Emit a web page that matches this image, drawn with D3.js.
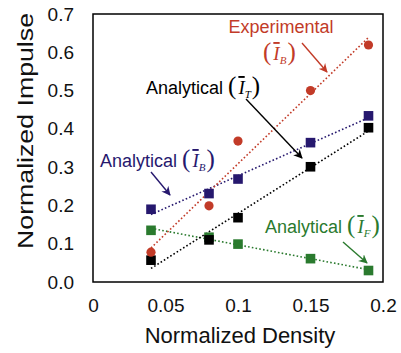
<!DOCTYPE html>
<html><head><meta charset="utf-8">
<script src="https://cdn.jsdelivr.net/npm/d3@7"></script>
<style>
html,body{margin:0;padding:0;background:#fff;}
text{font-family:Arial,"Liberation Sans",sans-serif;}
.serif{font-family:"Times New Roman","Liberation Serif",serif;}
</style>
</head><body>
<svg id="chart" width="401" height="353"></svg>
<script>
const density = [0.04, 0.08, 0.10, 0.15, 0.19];
const experimental = [0.078, 0.199, 0.368, 0.50, 0.619];
const analyticalB = [0.19, 0.231, 0.269, 0.364, 0.434];
const analyticalT = [0.057, 0.11, 0.168, 0.301, 0.403];
const analyticalF = [0.135, 0.117, 0.099, 0.061, 0.03];
const xTicks = [0, 0.05, 0.1, 0.15, 0.2];
const xTickLabels = ["0", "0.05", "0.1", "0.15", "0.2"];
const yTicks = [0, 0.1, 0.2, 0.3, 0.4, 0.5, 0.6, 0.7];
const yTickLabels = ["0.0", "0.1", "0.2", "0.3", "0.4", "0.5", "0.6", "0.7"];

const colors = {exp: "#c23b28", B: "#26186e", T: "#000000", F: "#2a7a2e"};

const svg = d3.select("#chart");
const x = d3.scaleLinear().domain([0, 0.2]).range([93, 383]);
const y = d3.scaleLinear().domain([0, 0.7]).range([282, 14]);

// frame
svg.append("rect").attr("x", x(0)).attr("y", y(0.7))
  .attr("width", x(0.2) - x(0)).attr("height", y(0) - y(0.7))
  .attr("fill", "none").attr("stroke", "#000").attr("stroke-width", 1.5);

// axes (labels only, no tick marks)
const xAxis = d3.axisBottom(x).tickValues(xTicks).tickSize(0).tickPadding(17)
  .tickFormat((d, i) => xTickLabels[i]);
const gx = svg.append("g").attr("transform", `translate(0,${y(0)})`).call(xAxis);
gx.select(".domain").remove();
gx.selectAll("text").attr("font-size", 19).attr("fill", "#111").attr("font-family", "Arial, Liberation Sans, sans-serif");

const yAxis = d3.axisLeft(y).tickValues(yTicks).tickSize(0).tickPadding(19)
  .tickFormat((d, i) => yTickLabels[i]);
const gy = svg.append("g").attr("transform", `translate(${x(0)},0)`).call(yAxis);
gy.select(".domain").remove();
gy.selectAll("text").attr("font-size", 19).attr("fill", "#111").attr("font-family", "Arial, Liberation Sans, sans-serif");

// axis titles
svg.append("text").attr("x", 240).attr("y", 343).attr("text-anchor", "middle")
  .attr("font-size", 22).attr("fill", "#111").text("Normalized Density");
svg.append("text").attr("transform", "translate(33,131) rotate(-90)")
  .attr("text-anchor", "middle").attr("font-size", 22).attr("fill", "#111")
  .attr("textLength", 236).attr("lengthAdjust", "spacingAndGlyphs").text("Normalized Impulse");

// trend lines (least-squares fits of each series)
function fit(ys) {
  const mx = d3.mean(density), my = d3.mean(ys);
  const sxy = d3.sum(density, (d, i) => (d - mx) * (ys[i] - my));
  const sxx = d3.sum(density, d => (d - mx) ** 2);
  const m = sxy / sxx, b = my - m * mx;
  const x0 = d3.min(density), x1 = d3.max(density);
  return [[x0, m * x0 + b], [x1, m * x1 + b]];
}
const series = [
  {vals: analyticalF, c: colors.F, shape: "sq"},
  {vals: analyticalB, c: colors.B, shape: "sq"},
  {vals: analyticalT, c: colors.T, shape: "sq"},
  {vals: experimental, c: colors.exp, shape: "circ"}
];
const line = d3.line().x(d => x(d[0])).y(d => y(d[1]));
series.forEach(s => {
  svg.append("path").attr("d", line(fit(s.vals))).attr("fill", "none")
    .attr("stroke", s.c).attr("stroke-width", 1.6).attr("stroke-dasharray", "1.6,2.2");
});
series.forEach(s => {
  const g = svg.append("g");
  if (s.shape === "sq") {
    g.selectAll("rect").data(s.vals).join("rect")
      .attr("x", (d, i) => x(density[i]) - 4.8).attr("y", d => y(d) - 4.8)
      .attr("width", 9.6).attr("height", 9.6).attr("fill", s.c);
  } else {
    g.selectAll("circle").data(s.vals).join("circle")
      .attr("cx", (d, i) => x(density[i])).attr("cy", d => y(d))
      .attr("r", 4.6).attr("fill", s.c);
  }
});

// arrow markers
const defs = svg.append("defs");
Object.entries(colors).forEach(([k, c]) => {
  defs.append("marker").attr("id", "arr" + k).attr("viewBox", "0 0 10 10")
    .attr("refX", 9).attr("refY", 5).attr("markerWidth", 9).attr("markerHeight", 9)
    .attr("markerUnits", "userSpaceOnUse").attr("orient", "auto")
    .append("path").attr("d", "M0,0 L10,5 L0,10 L3,5 Z").attr("fill", c);
});
function arrow(k, x1, y1, x2, y2) {
  svg.append("line").attr("x1", x1).attr("y1", y1).attr("x2", x2).attr("y2", y2)
    .attr("stroke", colors[k]).attr("stroke-width", 1.4).attr("marker-end", `url(#arr${k})`);
}
function symbol(t, sub, c) {
  t.append("tspan").attr("class", "serif").attr("font-size", 25).attr("font-weight", 100).text("(");
  t.append("tspan").attr("class", "serif").attr("font-size", 19).attr("font-style", "italic")
    .attr("dx", 2).style("text-decoration", "overline").text("I");
  t.append("tspan").attr("class", "serif").attr("font-size", 11).attr("font-style", "italic")
    .attr("dy", 4).text(sub);
  t.append("tspan").attr("class", "serif").attr("font-size", 25).attr("dy", -4).attr("dx", 1).text(")");
}

// Experimental label
svg.append("text").attr("x", 281).attr("y", 33).attr("text-anchor", "middle")
  .attr("font-size", 18).attr("fill", colors.exp).text("Experimental");
symbol(svg.append("text").attr("x", 263).attr("y", 60).attr("fill", colors.exp), "B");
arrow("exp", 302, 43, 327, 72);

// Analytical T
const tT = svg.append("text").attr("x", 146).attr("y", 94).attr("fill", colors.T).attr("font-size", 18);
tT.append("tspan").text("Analytical ");
symbol(tT, "T");
arrow("T", 246, 99, 302, 158);

// Analytical B
const tB = svg.append("text").attr("x", 100).attr("y", 167).attr("fill", colors.B).attr("font-size", 18);
tB.append("tspan").text("Analytical ");
symbol(tB, "B");
arrow("B", 151, 172, 170, 195);

// Analytical F
const tF = svg.append("text").attr("x", 265).attr("y", 233).attr("fill", colors.F).attr("font-size", 18);
tF.append("tspan").text("Analytical ");
symbol(tF, "F");
arrow("F", 343, 242, 367, 263);
</script>
</body></html>
